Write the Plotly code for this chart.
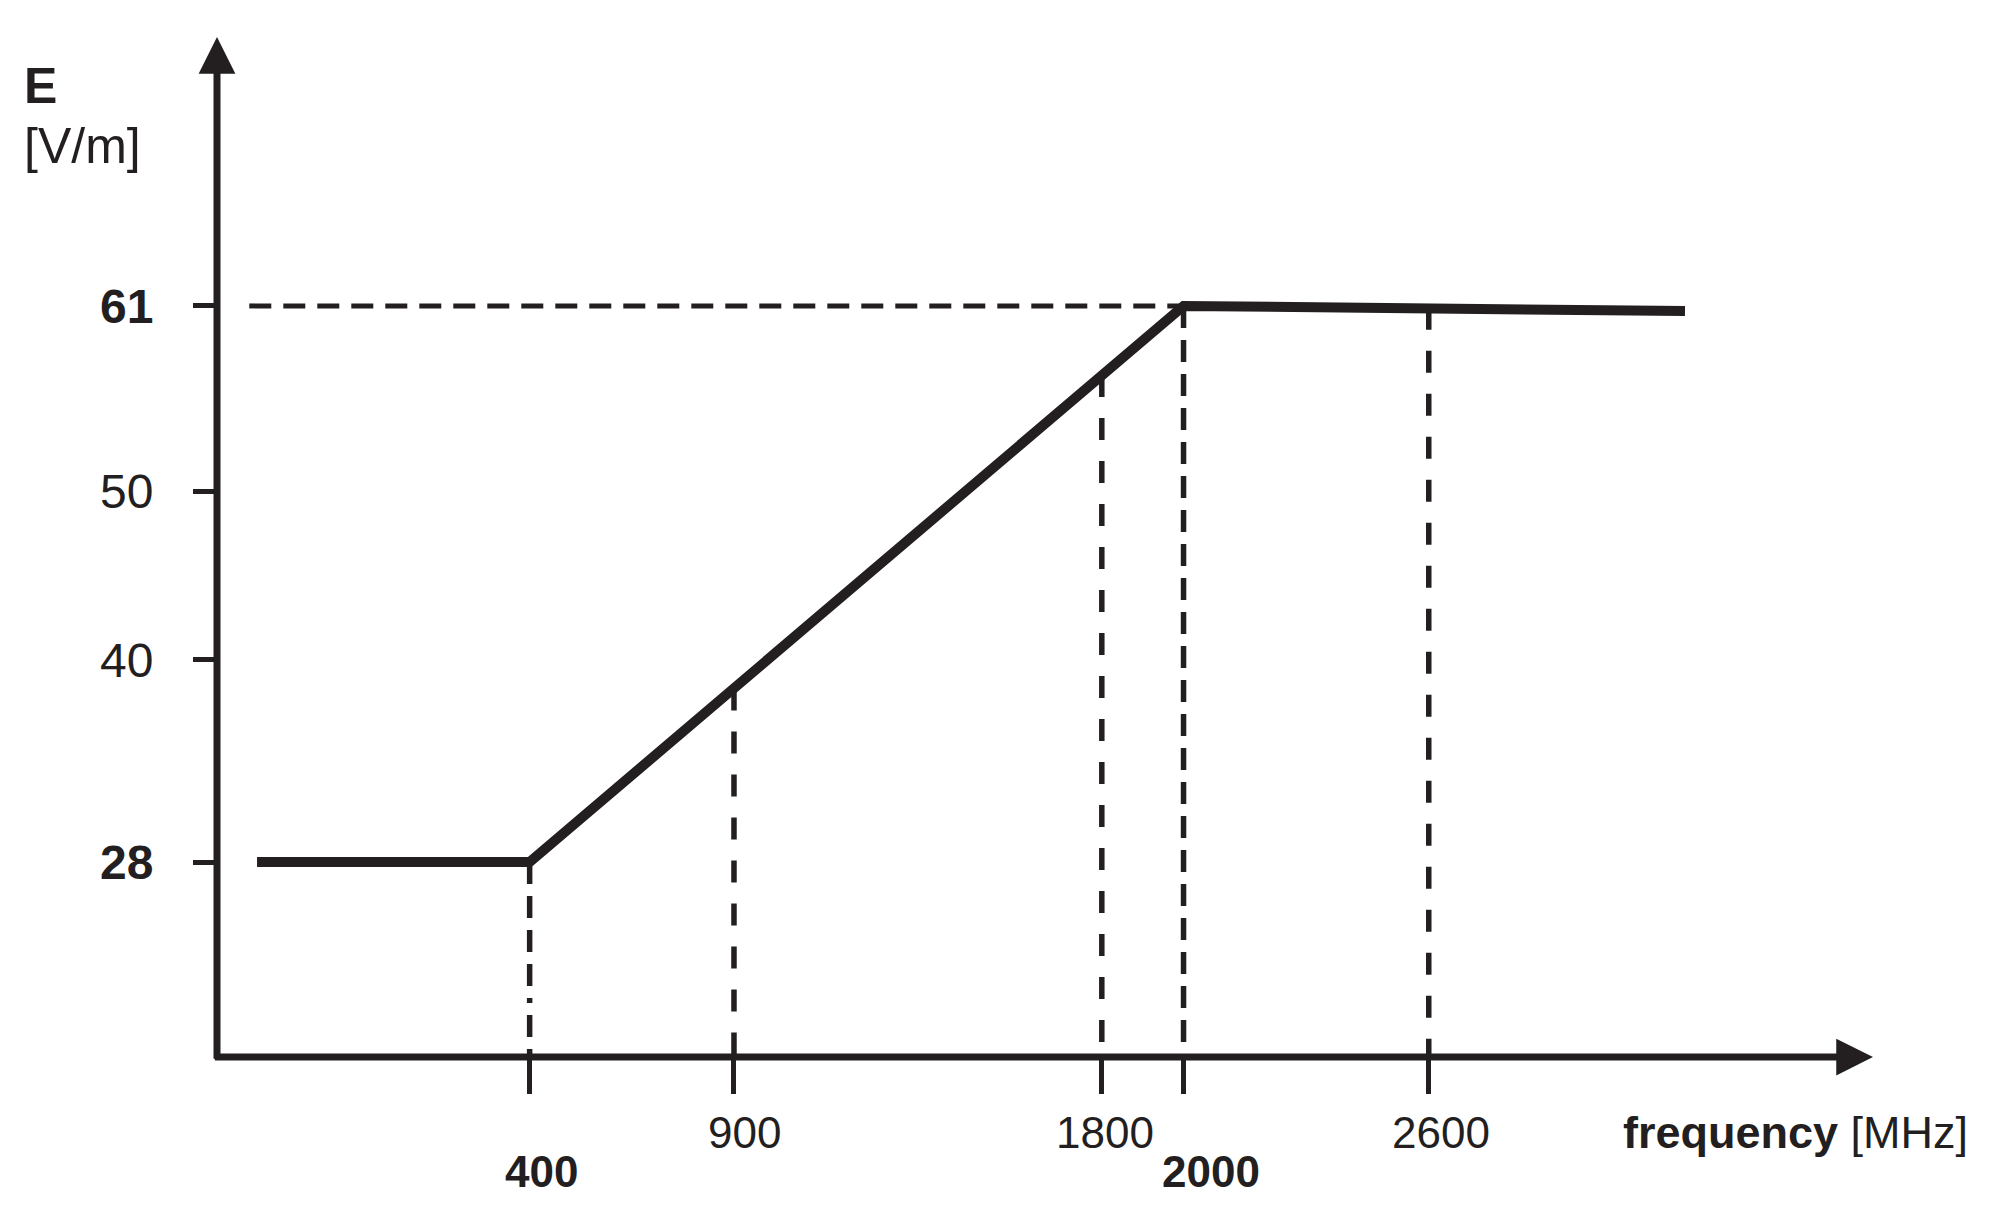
import plotly.graph_objects as go

# field strength limit curve (schematic)
curve_freq = [-267, 400, 2000, 3227]
curve_e = [28, 28, 61, 60.7]

# vertical guide lines: frequency and height where they meet the curve
guide_freq = [400, 900, 1800, 2000, 2600]
guide_top = [28, 38.3, 56.9, 61, 60.9]
guide_dash = ["22px,12px,22px,12px,22px,12px,22px,12px,5px,12px",
              "22px,21px", "22px,21px", "22px,12px", "22px,21px"]

# horizontal guide at 61 V/m
level_freq = [-286, 2000]
level_e = [61, 61]

x_ticks = [400, 900, 1800, 2000, 2600]
x_labels = ["<b>400</b>", "900", "1800", "<b>2000</b>", "2600"]
y_ticks = [28, 40, 50, 61]
y_labels = ["<b>28</b>", "40", "50", "<b>61</b>"]

X_RANGE = [-365, 3687]
Y_RANGE = [16.43, 76.96]

INK = "#231f20"
FONT = "Liberation Sans, Arial, sans-serif"

# label placement: (row offset below axis in px, horizontal nudge in px)
X_LABEL_POS = {
    400: (-114, 12),
    900: (-75, 11),
    1800: (-75, 3),
    2000: (-114, 27),
    2600: (-75, 12),
}

fig = go.Figure()

for f, top, dash in zip(guide_freq, guide_top, guide_dash):
    fig.add_trace(go.Scatter(
        x=[f, f], y=[top, Y_RANGE[0]], mode="lines",
        line={"color": INK, "width": 5.5, "dash": dash},
        hoverinfo="skip", showlegend=False,
    ))

fig.add_trace(go.Scatter(
    x=level_freq, y=level_e, mode="lines",
    line={"color": INK, "width": 5, "dash": "22px,12px"},
    hoverinfo="skip", showlegend=False,
))

fig.add_trace(go.Scatter(
    x=curve_freq, y=curve_e, mode="lines",
    line={"color": INK, "width": 10},
    hoverinfo="skip", showlegend=False,
))

# axes drawn as arrows
fig.add_annotation(
    x=X_RANGE[1], y=Y_RANGE[0], ax=X_RANGE[0] - 9, ay=Y_RANGE[0],
    xref="x", yref="y", axref="x", ayref="y", text="",
    showarrow=True, arrowhead=2, arrowwidth=7, arrowsize=1.05, arrowcolor=INK,
)
fig.add_annotation(
    x=X_RANGE[0], y=Y_RANGE[1], ax=X_RANGE[0], ay=Y_RANGE[0] - 0.2,
    xref="x", yref="y", axref="x", ayref="y", text="",
    showarrow=True, arrowhead=2, arrowwidth=7, arrowsize=1.05, arrowcolor=INK,
)

for val, txt in zip(x_ticks, x_labels):
    dy, dx = X_LABEL_POS[val]
    fig.add_annotation(
        x=val, y=0, xref="x", yref="paper", text=txt, showarrow=False,
        xanchor="center", yanchor="middle", xshift=dx, yshift=dy,
        font={"family": FONT, "size": 44, "color": INK},
    )

fig.add_annotation(
    x=1, y=0, xref="paper", yref="paper",
    text="<b>frequency</b> [MHz]", showarrow=False,
    xanchor="right", yanchor="middle", xshift=97, yshift=-75,
    font={"family": FONT, "size": 45, "color": INK},
)
fig.add_annotation(
    x=0, y=1, xref="paper", yref="paper", text="<b>E</b>", showarrow=False,
    xanchor="left", yanchor="middle", xshift=-195, yshift=-49,
    font={"family": FONT, "size": 50, "color": INK},
)
fig.add_annotation(
    x=0, y=1, xref="paper", yref="paper", text="[V/m]", showarrow=False,
    xanchor="left", yanchor="middle", xshift=-195, yshift=-109,
    font={"family": FONT, "size": 50, "color": INK},
)

# page body keeps an 8px margin, so the figure is sized to fit inside it
fig.update_layout(
    width=1989,
    height=1198,
    paper_bgcolor="white",
    plot_bgcolor="white",
    margin={"l": 209, "r": 124, "t": 29, "b": 149},
    xaxis={
        "range": X_RANGE, "showgrid": False, "zeroline": False, "showline": False,
        "automargin": False,
        "tickmode": "array", "tickvals": x_ticks, "showticklabels": False,
        "ticks": "outside", "ticklen": 36, "tickwidth": 5, "tickcolor": INK,
    },
    yaxis={
        "range": Y_RANGE, "showgrid": False, "zeroline": False, "showline": False,
        "automargin": False,
        "tickmode": "array", "tickvals": y_ticks, "ticktext": y_labels,
        "ticks": "outside", "ticklen": 23, "tickwidth": 5, "tickcolor": INK,
        "tickfont": {"family": FONT, "size": 48, "color": INK},
        "ticklabelstandoff": 30,
    },
)

fig.write_html("out.html")
